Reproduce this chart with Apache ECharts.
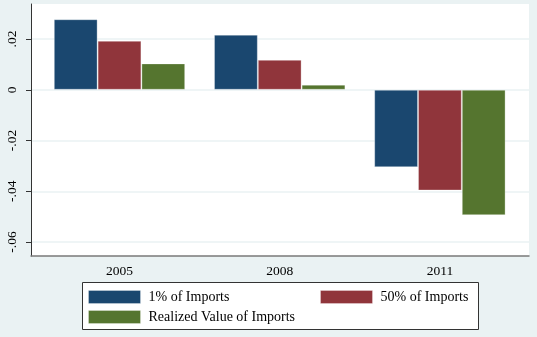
<!DOCTYPE html>
<html><head><meta charset="utf-8">
<script src="https://cdn.jsdelivr.net/npm/echarts@6/dist/echarts.min.js"></script>
<style>html,body{margin:0;padding:0;background:#EAF2F3;}#c{width:537px;height:337px;}</style>
</head><body><div id="c"></div>
<script>
const categories = ['2005', '2008', '2011'];
const seriesNames = ['1% of Imports', '50% of Imports', 'Realized Value of Imports'];
const imports1 = [0.0278, 0.0217, -0.0305];
const imports50 = [0.0193, 0.0118, -0.0397];
const realized = [0.0104, 0.0020, -0.0494];
const yTicks = [-0.06, -0.04, -0.02, 0, 0.02];
const yTickLabels = ['-.06', '-.04', '-.02', '0', '.02'];

const colors = ['#1A476F', '#90353B', '#55752F'];
const font = 'Liberation Serif';
const yMin = -0.0655, yMax = 0.0338;
const labelMap = {};
yTicks.forEach((v, i) => { labelMap[v.toFixed(2)] = yTickLabels[i]; });

const chart = echarts.init(document.getElementById('c'), null, {renderer: 'canvas'});
const mkLegend = (name, left, top) => ({
  data: [name], left: left, top: top, padding: 0, itemWidth: 52, itemHeight: 13,
  icon: 'rect', itemGap: 5, selectedMode: false,
  itemStyle: {borderColor: 'rgba(255,255,255,0.3)', borderWidth: 1},
  textStyle: {fontFamily: font, fontSize: 14, color: '#000', padding: [0, 0, 0, 3]}
});
chart.setOption({
  backgroundColor: '#EAF2F3',
  animation: false,
  graphic: [{
    type: 'rect', shape: {x: 82.5, y: 282.5, width: 396, height: 47},
    style: {fill: '#fff', stroke: '#333', lineWidth: 1}, z: -1
  }],
  legend: [
    mkLegend(seriesNames[0], 88, 290),
    mkLegend(seriesNames[1], 320, 290),
    mkLegend(seriesNames[2], 88, 310)
  ],
  grid: [
    {left: 31, right: 8, top: 4, bottom: 81, show: true, backgroundColor: '#fff', borderWidth: 0},
    {left: 39.4, right: 17, top: 4, bottom: 81}
  ],
  xAxis: [
    {gridIndex: 0, type: 'category', data: categories, axisLine: {show: true, onZero: false, lineStyle: {color: '#7a7a7a', width: 1.5}},
     axisTick: {show: false}, axisLabel: {show: false}, splitLine: {show: false}},
    {gridIndex: 1, type: 'category', data: categories, axisLine: {show: false}, axisTick: {show: false},
     axisLabel: {margin: 8, fontFamily: font, fontSize: 13.5, color: '#000'}}
  ],
  yAxis: [
    {gridIndex: 0, type: 'value', min: yMin, max: yMax,
     axisLine: {show: true, lineStyle: {color: '#333'}},
     axisTick: {show: true, length: 5, lineStyle: {color: '#333'}, customValues: yTicks},
     axisLabel: {rotate: 90, margin: 12, fontFamily: font, fontSize: 13.5, color: '#000', customValues: yTicks,
       formatter: v => labelMap[(+v).toFixed(2)] ?? ''},
     splitLine: {show: true, lineStyle: {color: '#EAF2F3', width: 1.5}}},
    {gridIndex: 1, type: 'value', min: yMin, max: yMax, show: false, splitLine: {show: false}}
  ],
  series: [imports1, imports50, realized].map((d, i) => ({
    type: 'bar', name: seriesNames[i], data: d, xAxisIndex: 1, yAxisIndex: 1,
    barGap: '0%', barCategoryGap: '18%',
    itemStyle: {color: colors[i], borderColor: 'rgba(255,255,255,0.3)', borderWidth: 1}
  }))
});
</script></body></html>
